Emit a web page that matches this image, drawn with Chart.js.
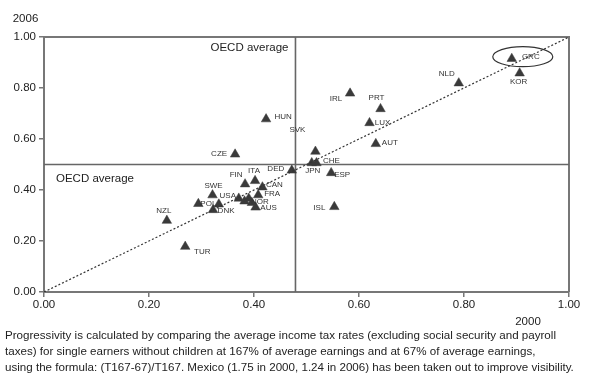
<!DOCTYPE html>
<html>
<head>
<meta charset="utf-8">
<script src="https://cdn.jsdelivr.net/npm/chart.js@4/dist/chart.umd.min.js"></script>
<style>
  html, body { margin: 0; padding: 0; background: #fff; }
  #wrap { position: relative; width: 592px; height: 384px; overflow: hidden; }
  canvas { display: block; }
  #caption {
    position: absolute; left: 5px; top: 327px;
    font-family: "Liberation Sans", Arial, sans-serif; font-size: 11.6px;
    line-height: 16px; color: #222; white-space: nowrap;
  }
</style>
</head>
<body>
<div id="wrap">
  <canvas id="c" width="592" height="384"></canvas>
  <div id="caption">Progressivity is calculated by comparing the average income tax rates (excluding social security and payroll<br>taxes) for single earners without children at 167% of average earnings and at 67% of average earnings,<br>using the formula: (T167-67)/T167. Mexico (1.75 in 2000, 1.24 in 2006) has been taken out to improve visibility.</div>
</div>
<script>
// ---- data ----
const countries = ["GRC","KOR","NLD","IRL","PRT","LUX","AUT","HUN","SVK","CZE","CHE","JPN","DED","ESP","ISL","ITA","FIN","CAN","FRA","SWE","USA","NOR","AUS","POL","DNK","NZL","TUR","","",""];
const progressivity2000 = [0.891,0.906,0.790,0.583,0.641,0.620,0.632,0.423,0.517,0.364,0.519,0.510,0.472,0.547,0.553,0.402,0.383,0.416,0.408,0.321,0.371,0.396,0.403,0.294,0.322,0.234,0.269,0.333,0.382,0.390];
const progressivity2006 = [0.915,0.858,0.819,0.779,0.718,0.663,0.581,0.678,0.551,0.540,0.506,0.506,0.477,0.467,0.334,0.436,0.423,0.411,0.380,0.380,0.367,0.350,0.332,0.346,0.322,0.280,0.178,0.344,0.356,0.367];
const oecdAverage2000 = 0.479;
const oecdAverage2006 = 0.50;
const tickValues = [0, 0.2, 0.4, 0.6, 0.8, 1.0];
const highlighted = "GRC";

// ---- label placement (pixel offsets from marker) ----
const labelOffsets = {
  GRC:[19,-1], KOR:[-1,10], NLD:[-12,-8], IRL:[-14,6], PRT:[-4,-10], LUX:[13,1], AUT:[14,0],
  HUN:[17,-1], SVK:[-18,-21], CZE:[-16,0], CHE:[15,-1], JPN:[1,9], DED:[-16,-1], ESP:[11,3],
  ISL:[-15,2], ITA:[-1,-9], FIN:[-9,-8], CAN:[12,-1], FRA:[14,0], SWE:[1,-8], USA:[-11,-2],
  NOR:[8,0], AUS:[13,1], POL:[10,1], DNK:[13,2], NZL:[-3,-9], TUR:[17,6]
};

const FONT = '"Liberation Sans", Arial, sans-serif';
const points = progressivity2000.map((x, i) => ({ x: x, y: progressivity2006[i], label: countries[i] }));

const overlay = {
  id: 'overlay',
  beforeDatasetsDraw(chart) {
    const { ctx, chartArea: a, scales: { x, y } } = chart;
    ctx.save();
    ctx.strokeStyle = '#777';
    ctx.lineWidth = 2;
    ctx.beginPath();
    ctx.moveTo(a.left, a.top); ctx.lineTo(a.right, a.top); ctx.lineTo(a.right, a.bottom);
    ctx.stroke();
    ctx.strokeStyle = '#666';
    ctx.lineWidth = 1.6;
    const vx = x.getPixelForValue(oecdAverage2000);
    const hy = y.getPixelForValue(oecdAverage2006);
    ctx.beginPath();
    ctx.moveTo(vx, a.top); ctx.lineTo(vx, a.bottom);
    ctx.moveTo(a.left, hy); ctx.lineTo(a.right, hy);
    ctx.stroke();
    ctx.restore();
  },
  afterDatasetsDraw(chart) {
    const { ctx, chartArea: a, scales: { x, y } } = chart;
    ctx.save();
    const meta = chart.getDatasetMeta(1);
    ctx.font = '8px ' + FONT;
    ctx.fillStyle = '#333';
    ctx.textAlign = 'center';
    ctx.textBaseline = 'middle';
    meta.data.forEach((el, i) => {
      const lab = points[i].label;
      if (!lab) return;
      const off = labelOffsets[lab] || [12, 0];
      ctx.fillText(lab, el.x + off[0], el.y + off[1] - 1);
    });
    const gi = countries.indexOf(highlighted);
    const g = meta.data[gi];
    ctx.strokeStyle = '#333';
    ctx.lineWidth = 1.2;
    ctx.beginPath();
    ctx.ellipse(g.x + 11, g.y - 2, 30, 10, 0, 0, Math.PI * 2);
    ctx.stroke();
    ctx.font = '11.5px ' + FONT;
    ctx.fillStyle = '#222';
    ctx.textAlign = 'left';
    const vx = x.getPixelForValue(oecdAverage2000);
    const hy = y.getPixelForValue(oecdAverage2006);
    ctx.fillText('OECD average', vx - 85, a.top + 11);
    ctx.fillText('OECD average', a.left + 12, hy + 14);
    ctx.textAlign = 'center';
    ctx.fillText('2006', 25.5, 19);
    ctx.fillText('2000', a.right - 41, 322);
    ctx.restore();
  }
};

new Chart(document.getElementById('c'), {
  type: 'scatter',
  data: {
    datasets: [
      {
        type: 'line',
        data: [{ x: 0, y: 0 }, { x: 1, y: 1 }],
        borderColor: '#333',
        borderWidth: 1.2,
        borderDash: [2, 2],
        pointRadius: 0,
        fill: false
      },
      {
        data: points,
        pointStyle: 'triangle',
        pointRadius: 5.5,
        pointBackgroundColor: '#3a3a3a',
        pointBorderColor: '#3a3a3a',
        pointBorderWidth: 0.5
      }
    ]
  },
  plugins: [overlay],
  options: {
    responsive: false,
    animation: false,
    events: [],
    layout: { padding: { top: 37, right: 23, left: 0, bottom: 0 } },
    plugins: { legend: { display: false }, tooltip: { enabled: false } },
    scales: {
      x: {
        type: 'linear', min: 0, max: 1,
        afterBuildTicks(s) { s.ticks = tickValues.map(v => ({ value: v })); },
        afterFit(s) { s.height = 92; },
        grid: { display: true, drawOnChartArea: false, drawTicks: true, tickLength: 5, color: '#777', lineWidth: 1.5 },
        border: { display: true, color: '#777', width: 2 },
        ticks: { padding: 1, color: '#222', font: { family: FONT, size: 11.5 }, callback: v => Number(v).toFixed(2), maxRotation: 0 }
      },
      y: {
        type: 'linear', min: 0, max: 1,
        afterBuildTicks(s) { s.ticks = tickValues.map(v => ({ value: v })); },
        afterFit(s) { s.width = 44; },
        grid: { display: true, drawOnChartArea: false, drawTicks: true, tickLength: 5, color: '#777', lineWidth: 1.5 },
        border: { display: true, color: '#777', width: 2 },
        ticks: { padding: 3, color: '#222', font: { family: FONT, size: 11.5 }, callback: v => Number(v).toFixed(2) }
      }
    }
  }
});
</script>
</body>
</html>
